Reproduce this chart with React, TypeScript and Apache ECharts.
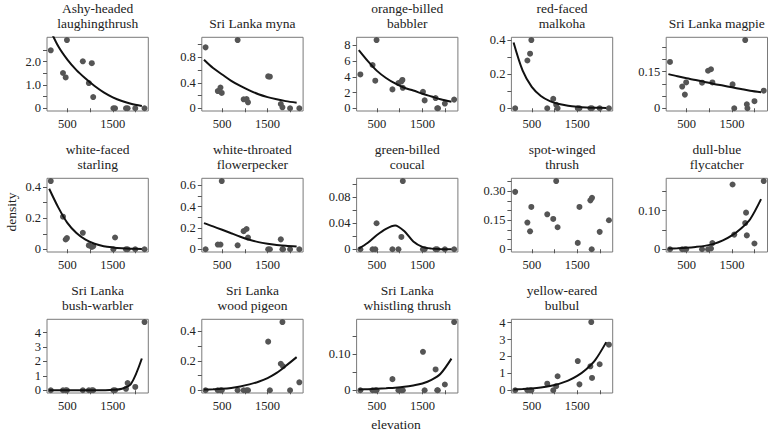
import React, { useEffect, useRef } from "react";
import * as echarts from "echarts";

// ---------- data ----------
const speciesNames: string[] = [
  "Ashy-headed\nlaughingthrush",
  "Sri Lanka myna",
  "orange-billed\nbabbler",
  "red-faced\nmalkoha",
  "Sri Lanka magpie",
  "white-faced\nstarling",
  "white-throated\nflowerpecker",
  "green-billed\ncoucal",
  "spot-winged\nthrush",
  "dull-blue\nflycatcher",
  "Sri Lanka\nbush-warbler",
  "Sri Lanka\nwood pigeon",
  "Sri Lanka\nwhistling thrush",
  "yellow-eared\nbulbul",
];

// elevations at which the fitted curves were read
const curveElev = [100, 300, 500, 700, 900, 1100, 1300, 1500, 1700, 1900, 2140];

const ashyPoints = [[135, 2.48], [404, 1.51], [463, 1.32], [491, 2.92], [841, 2.01], [973, 1.08], [1038, 1.93], [1069, 0.48], [1513, 0], [1550, 0], [1791, 0], [1827, 0], [1995, 0], [2199, 0]];
const ashyCurve = [3.45, 2.65, 2.08, 1.63, 1.27, 0.95, 0.68, 0.47, 0.31, 0.19, 0.1];

const mynaPoints = [[135, 0.955], [404, 0.27], [463, 0.325], [491, 0.24], [841, 1.07], [973, 0.14], [1038, 0.145], [1069, 0.093], [1513, 0.5], [1550, 0.495], [1791, 0.067], [1827, 0.015], [1995, 0], [2199, 0]];
const mynaCurve = [0.76, 0.63, 0.53, 0.43, 0.35, 0.28, 0.22, 0.175, 0.14, 0.112, 0.088];

const babblerPoints = [[135, 4.3], [404, 5.5], [463, 3.5], [491, 8.67], [841, 2.4], [973, 3.2], [1038, 3.4], [1060, 3.6], [1069, 2.6], [1513, 2.1], [1550, 1.0], [1791, 1.3], [1827, 0], [1845, 0], [1995, 0.6], [2199, 1.1]];
const babblerCurve = [7.4, 6.0, 4.75, 3.85, 3.15, 2.6, 2.25, 1.85, 1.5, 1.15, 0.83];

const malkohaPoints = [[135, 0], [404, 0.28], [463, 0.32], [491, 0.4], [841, 0], [973, 0.055], [1038, 0.02], [1069, 0], [1513, 0], [1550, 0], [1791, 0], [1827, 0], [1995, 0], [2199, 0]];
const malkohaCurve = [0.385, 0.22, 0.125, 0.072, 0.042, 0.025, 0.015, 0.009, 0.005, 0.003, 0.002];

const magpiePoints = [[135, 0.19], [404, 0.089], [463, 0.056], [491, 0.106], [841, 0.105], [973, 0.154], [1038, 0.16], [1069, 0.106], [1513, 0.098], [1550, 0], [1791, 0.28], [1827, 0.016], [1840, 0], [1995, 0.029], [2199, 0.072]];
const magpieCurve = [0.14, 0.131, 0.123, 0.116, 0.108, 0.1, 0.093, 0.086, 0.079, 0.072, 0.066];

const starlingPoints = [[135, 0.44], [404, 0.21], [463, 0.063], [491, 0.072], [841, 0.106], [973, 0.025], [1038, 0.015], [1069, 0.02], [1513, 0], [1550, 0.076], [1791, 0], [1827, 0], [1995, 0], [2199, 0]];
const starlingCurve = [0.39, 0.27, 0.17, 0.105, 0.062, 0.036, 0.02, 0.012, 0.007, 0.004, 0.002];

const flowerpeckerPoints = [[135, 0], [404, 0.044], [463, 0.044], [491, 0.64], [841, 0.037], [973, 0.17], [1038, 0.19], [1069, 0.11], [1513, 0], [1550, 0], [1791, 0.093], [1827, 0], [1840, 0], [1995, 0], [2199, 0]];
const flowerpeckerCurve = [0.245, 0.215, 0.183, 0.15, 0.118, 0.09, 0.067, 0.052, 0.041, 0.032, 0.025];

const coucalPoints = [[135, 0], [404, 0], [463, 0], [491, 0.04], [841, 0], [973, 0], [1038, 0.019], [1069, 0.105], [1513, 0], [1550, 0], [1791, 0], [1827, 0], [1995, 0], [2199, 0]];
const coucalCurve = [0.001, 0.01, 0.022, 0.0315, 0.0367, 0.028, 0.012, 0.0037, 0.001, 0.0002, 0];

const thrushPoints = [[135, 0.297], [404, 0.138], [463, 0.093], [491, 0.219], [841, 0.181], [973, 0.157], [1038, 0.353], [1069, 0.114], [1513, 0.033], [1550, 0.219], [1791, 0.253], [1827, 0.266], [1820, 0], [1995, 0.09], [2199, 0.15]];

const flycatcherPoints = [[135, 0], [404, 0], [463, 0], [491, 0], [841, 0], [973, 0], [1038, 0.002], [1069, 0.016], [1513, 0.168], [1550, 0.038], [1791, 0.068], [1810, 0.095], [1827, 0.036], [1995, 0.015], [2199, 0.177]];
const flycatcherCurve = [0.0017, 0.0027, 0.004, 0.006, 0.0088, 0.014, 0.023, 0.036, 0.054, 0.078, 0.13];

const warblerPoints = [[135, 0], [404, 0], [463, 0], [491, 0], [841, 0], [973, 0], [1038, 0], [1069, 0], [1513, 0], [1550, 0], [1791, 0.1], [1827, 0.5], [1995, 0.23], [2199, 4.73]];
const warblerCurve = [0, 0, 0.0001, 0.0003, 0.0008, 0.0018, 0.007, 0.028, 0.11, 0.43, 2.2];

const pigeonPoints = [[135, 0], [404, 0], [463, 0], [491, 0], [841, 0], [973, 0], [1038, 0], [1069, 0], [1513, 0.33], [1550, 0], [1791, 0.18], [1827, 0.463], [1840, 0.163], [1995, 0], [2199, 0.054]];
const pigeonCurve = [0.005, 0.007, 0.01, 0.016, 0.026, 0.04, 0.058, 0.083, 0.118, 0.165, 0.225];

const whistlingPoints = [[135, 0], [404, 0], [463, 0], [491, 0], [841, 0.031], [973, 0], [1038, 0], [1069, 0], [1513, 0.107], [1550, 0], [1791, 0.058], [1827, 0], [1840, 0], [1995, 0.016], [2199, 0.19]];
const whistlingCurve = [0.002, 0.003, 0.0045, 0.0058, 0.0072, 0.0095, 0.0135, 0.019, 0.029, 0.046, 0.088];

const bulbulPoints = [[135, 0], [404, 0], [463, 0], [491, 0], [841, 0.39], [973, 0], [1038, 0.24], [1069, 0.83], [1513, 1.73], [1550, 0.35], [1791, 1.42], [1810, 4.04], [1827, 0.73], [1995, 1.54], [2199, 2.7]];
const bulbulCurve = [0.05, 0.075, 0.11, 0.165, 0.25, 0.38, 0.57, 0.85, 1.25, 1.8, 2.85];

const allPoints = [ashyPoints, mynaPoints, babblerPoints, malkohaPoints, magpiePoints, starlingPoints, flowerpeckerPoints, coucalPoints, thrushPoints, flycatcherPoints, warblerPoints, pigeonPoints, whistlingPoints, bulbulPoints];
const allCurves = [ashyCurve, mynaCurve, babblerCurve, malkohaCurve, magpieCurve, starlingCurve, flowerpeckerCurve, coucalCurve, null, flycatcherCurve, warblerCurve, pigeonCurve, whistlingCurve, bulbulCurve];

// tick values
const xTicks = [500, 1000, 1500, 2000];
const xTickLabels = [500, 1500];
const xRange = [52, 2282];

const yTicks: number[][] = [
  [0, 0.5, 1, 1.5, 2, 2.5],
  [0, 0.2, 0.4, 0.6, 0.8, 1.0],
  [0, 2, 4, 6, 8],
  [0, 0.1, 0.2, 0.3, 0.4],
  [0, 0.05, 0.1, 0.15, 0.2, 0.25],
  [0, 0.1, 0.2, 0.3, 0.4],
  [0, 0.1, 0.2, 0.3, 0.4, 0.5, 0.6],
  [0, 0.02, 0.04, 0.06, 0.08, 0.1],
  [0, 0.05, 0.1, 0.15, 0.2, 0.25, 0.3, 0.35],
  [0, 0.05, 0.1, 0.15],
  [0, 1, 2, 3, 4],
  [0, 0.1, 0.2, 0.3, 0.4],
  [0, 0.05, 0.1, 0.15],
  [0, 1, 2, 3, 4],
];
const yLabelValues: number[][] = [
  [0, 1, 2],
  [0, 0.4, 0.8],
  [0, 2, 4, 6, 8],
  [0, 0.2, 0.4],
  [0, 0.15],
  [0, 0.2, 0.4],
  [0, 0.2, 0.4, 0.6],
  [0, 0.04, 0.08],
  [0, 0.15, 0.3],
  [0, 0.1],
  [0, 1, 2, 3, 4],
  [0, 0.2, 0.4],
  [0, 0.1],
  [0, 1, 2, 3, 4],
];
const yLabelTexts: string[][] = [
  ["0", "1.0", "2.0"],
  ["0", "0.4", "0.8"],
  ["0", "2", "4", "6", "8"],
  ["0", "0.2", "0.4"],
  ["0", "0.15"],
  ["0", "0.2", "0.4"],
  ["0", "0.2", "0.4", "0.6"],
  ["0", "0.04", "0.08"],
  ["0", "0.15", "0.30"],
  ["0", "0.10"],
  ["0", "1", "2", "3", "4"],
  ["0", "0.2", "0.4"],
  ["0", "0.10"],
  ["0", "1", "2", "3", "4"],
];

const xAxisTitle = "elevation";
const yAxisTitle = "density";

// ---------- layout / style ----------
const FONT = "Liberation Serif";
const COL_LEFT0 = 47.0;
const COL_STEP = 154.8;
const BOX_W = 101.3;
const ROW_TOP0 = 37.3;
const ROW_STEP = 141;
const BOX_H = 73.7;
const NCOL = 5;

export default function App() {
  const ref = useRef<HTMLDivElement>(null);
  useEffect(() => {
    document.body.style.margin = "0";
    if (!ref.current) return;
    const chart = echarts.init(ref.current, undefined, { renderer: "svg" });

    const grids: any[] = [];
    const xAxes: any[] = [];
    const yAxes: any[] = [];
    const series: any[] = [];
    const graphics: any[] = [];

    speciesNames.forEach((name, i) => {
      const c = i % NCOL;
      const r = Math.floor(i / NCOL);
      const left = COL_LEFT0 + COL_STEP * c;
      const top = ROW_TOP0 + ROW_STEP * r;
      grids.push({
        left,
        top,
        width: BOX_W,
        height: BOX_H,
        show: true,
        borderColor: "#7a7a7a",
        borderWidth: 1,
        backgroundColor: "transparent",
      });
      xAxes.push({
        type: "value",
        gridIndex: i,
        min: xRange[0],
        max: xRange[1],
        axisLine: { show: false },
        splitLine: { show: false },
        axisTick: {
          show: true,
          inside: false,
          length: 4,
          customValues: xTicks,
          lineStyle: { color: "#555", width: 1 },
        },
        axisLabel: {
          customValues: xTickLabels,
          margin: 6,
          fontFamily: FONT,
          fontSize: 12.5,
          color: "#222",
          formatter: (v: number) => String(v),
        },
      });
      const pts = allPoints[i];
      const ymaxData = Math.max(...pts.map((p) => p[1]));
      const labVals = yLabelValues[i];
      const labTxt = yLabelTexts[i];
      yAxes.push({
        type: "value",
        gridIndex: i,
        min: -0.04 * ymaxData,
        max: 1.04 * ymaxData,
        axisLine: { show: false },
        splitLine: { show: false },
        axisTick: {
          show: true,
          inside: false,
          length: 4,
          customValues: yTicks[i],
          lineStyle: { color: "#555", width: 1 },
        },
        axisLabel: {
          customValues: labVals,
          margin: 6,
          fontFamily: FONT,
          fontSize: 12.5,
          color: "#222",
          formatter: (v: number) => {
            const k = labVals.findIndex((lv) => Math.abs(lv - v) < 1e-9);
            return k >= 0 ? labTxt[k] : "";
          },
        },
      });
      series.push({
        type: "scatter",
        xAxisIndex: i,
        yAxisIndex: i,
        data: pts,
        symbol: "circle",
        symbolSize: 6,
        itemStyle: { color: "#555555", opacity: 1 },
        z: 2,
      });
      const cv = allCurves[i];
      if (cv) {
        series.push({
          type: "line",
          xAxisIndex: i,
          yAxisIndex: i,
          data: cv.map((v, k) => [curveElev[k], v]),
          showSymbol: false,
          smooth: 0.3,
          clip: true,
          lineStyle: { color: "#111", width: 2 },
          z: 3,
        });
      }
      graphics.push({
        type: "text",
        x: left + BOX_W / 2,
        y: top - 6,
        style: {
          text: name,
          textAlign: "center",
          textVerticalAlign: "bottom",
          fontFamily: FONT,
          fontSize: 13.5,
          lineHeight: 15,
          fill: "#222",
        },
      });
    });

    graphics.push({
      type: "text",
      x: 396,
      y: 424,
      style: {
        text: xAxisTitle,
        textAlign: "center",
        textVerticalAlign: "middle",
        fontFamily: FONT,
        fontSize: 13.5,
        fill: "#222",
      },
    });
    graphics.push({
      type: "text",
      x: 11,
      y: 212,
      rotation: Math.PI / 2,
      style: {
        text: yAxisTitle,
        textAlign: "center",
        textVerticalAlign: "middle",
        fontFamily: FONT,
        fontSize: 13.5,
        fill: "#222",
      },
    });

    chart.setOption({
      animation: false,
      backgroundColor: "#ffffff",
      grid: grids,
      xAxis: xAxes,
      yAxis: yAxes,
      series,
      graphic: graphics,
    });
    return () => chart.dispose();
  }, []);
  return <div ref={ref} style={{ width: 772, height: 432 }} />;
}
